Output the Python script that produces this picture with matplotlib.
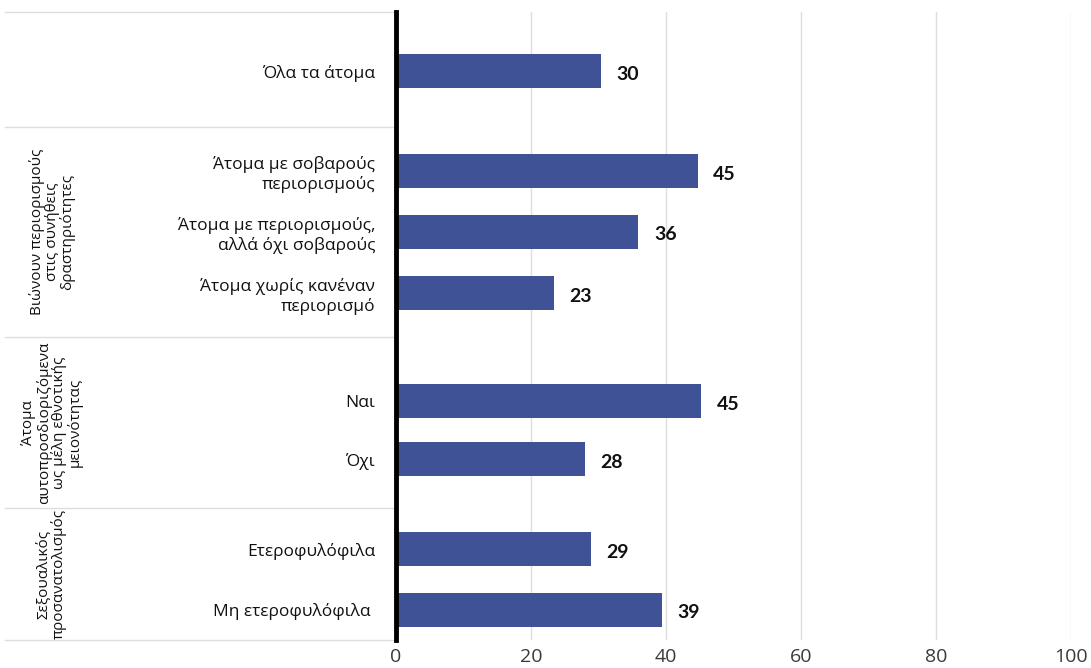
import numpy as np
import matplotlib.pyplot as plt
from matplotlib.transforms import blended_transform_factory

plt.rcParams['font.family'] = ['Open Sans', 'DejaVu Sans']

# δεδομένα (%)
labels = ['Όλα τα άτομα',
          'Άτομα με σοβαρούς\nπεριορισμούς',
          'Άτομα με περιορισμούς,\nαλλά όχι σοβαρούς',
          'Άτομα χωρίς κανέναν\nπεριορισμό',
          'Ναι',
          'Όχι',
          'Ετεροφυλόφιλα',
          'Μη ετεροφυλόφιλα ']
values = [30.4, 44.7, 35.9, 23.4, 45.2, 28.0, 28.9, 39.4]
group_names = ['',
               'Βιώνουν περιορισμούς\nστις συνήθεις\nδραστηριότητες',
               'Άτομα\nαυτοπροσδιοριζόμενα\nως μέλη εθνοτικής\nμειονότητας',
               'Σεξουαλικός\nπροσανατολισμός']
xticks = [0, 20, 40, 60, 80, 100]

# θέσεις (σε pixel-μονάδες της εικόνας)
ypos = [71, 171, 232, 293, 401, 459, 549, 610]
bounds = [12, 127, 337, 508, 640]
bar_color = '#3F5296'

W, H = 1091, 668
fig = plt.figure(figsize=(W / 100, H / 100), dpi=100)
x0, x1, ytop, ybot = 396, 1071, 12, 640
ax = fig.add_axes([x0 / W, (H - ybot) / H, (x1 - x0) / W, (ybot - ytop) / H])

ax.barh(ypos, values, height=34, color=bar_color, zorder=3)
for y, v in zip(ypos, values):
    ax.text(v + 2.3, y + 3, f'{v:.0f}', va='center', ha='left',
            fontsize=14, fontweight='bold', color='#111111', family='Lato')

ax.set_xlim(0, 100)
ax.set_ylim(bounds[-1], bounds[0])
ax.set_xticks(xticks)
ax.set_xticklabels([str(t) for t in xticks], fontsize=14, color='#3a3a3a')
ax.tick_params(axis='x', length=0, pad=6)
ax.set_yticks(ypos)
ax.set_yticklabels(labels, fontsize=12.5, color='#111111')
ax.tick_params(axis='y', length=0, pad=15)
ax.grid(axis='x', color='#dddddd', lw=1, zorder=0)
for s in ['top', 'right', 'bottom']:
    ax.spines[s].set_visible(False)
ax.spines['left'].set_linewidth(3.5)
ax.spines['left'].set_color('black')
ax.spines['left'].set_zorder(5)

# διαχωριστικές γραμμές ομάδων και τίτλοι ομάδων
tr = blended_transform_factory(ax.transAxes, ax.transData)
left = (5 - x0) / (x1 - x0)
for b in bounds:
    ax.plot([left, 0], [b, b], transform=tr, color='#dddddd', lw=1,
            clip_on=False, zorder=1)
for i, name in enumerate(group_names):
    if not name:
        continue
    yc = (bounds[i] + bounds[i + 1]) / 2
    ax.text((52 - x0) / (x1 - x0), yc, name, transform=tr, rotation=90,
            ha='center', va='center', multialignment='center',
            fontsize=11, color='#111111', linespacing=0.95)

fig.savefig('out.png', dpi=100)
